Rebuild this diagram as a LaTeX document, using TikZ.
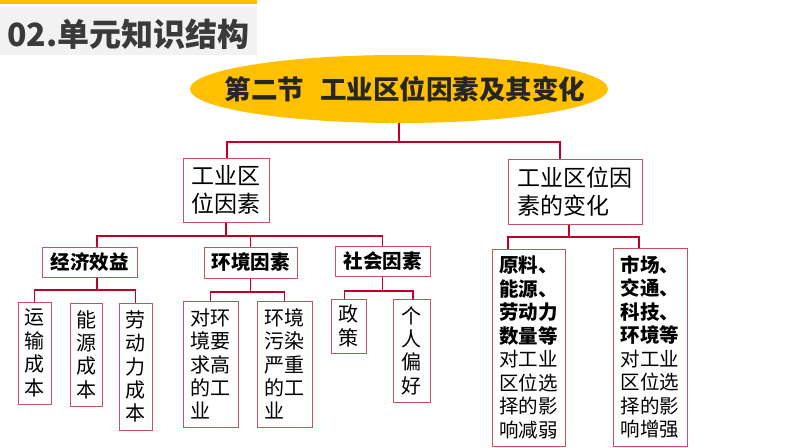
\documentclass[tikz,border=0pt]{standalone}
\usepackage{fontspec}
\setmainfont{Noto Sans CJK SC}
\usetikzlibrary{shapes.geometric}
\definecolor{gold}{RGB}{255,192,0}
\definecolor{hdrgray}{RGB}{242,242,242}
\definecolor{hdrtext}{RGB}{58,58,58}
\definecolor{connred}{RGB}{192,0,40}
\definecolor{boxred}{RGB}{200,80,95}
\tikzset{
  conn/.style={draw=connred, line width=1.3pt},
  box/.style={draw=boxred, line width=1pt, inner sep=0pt, text=black},
  midbox/.style={box, font={\fontsize{23}{28}\selectfont}, align=left},
  catbox/.style={box, font={\bfseries\fontsize{19.5}{23}\selectfont}, align=center},
  leafbox/.style={box, font={\fontsize{20}{23.4}\selectfont}, align=left},
  sidebox/.style={box, font={\fontsize{19.5}{23.5}\selectfont}, align=left},
}
\begin{document}
\begin{tikzpicture}[x=1pt,y=-1pt]
\useasboundingbox (0,0) rectangle (794,447);
\fill[white] (0,0) rectangle (794,447);
% header
\fill[gold] (0,0) rectangle (257,3.5);
\fill[hdrgray] (0,6) rectangle (257,55);
\node[anchor=west, text=hdrtext, font={\bfseries\fontsize{32}{32}\selectfont}, inner sep=0pt] (hdr) at (7,34) {02.单元知识结构};
% title
\node[ellipse, fill=gold, minimum width=418pt, minimum height=68pt, inner sep=0pt,
      font={\bfseries\fontsize{26.5}{26.5}\selectfont}, text={rgb,255:red,38;green,38;blue,38}] (title) at (399,89) {\makebox[0pt]{\hspace{12pt}第二节\hspace{0.6em}工业区位因素及其变化}};
% level 1
\node[midbox, minimum width=86pt, minimum height=64pt] (b1) at (226,190) {工业区\\位因素};
\node[midbox, minimum width=134pt, minimum height=65pt] (b2) at (575,191.5) {工业区位因\\素的变化};
% level 2
\node[catbox, minimum width=95pt, minimum height=30pt] (e1) at (89.5,262) {经济效益};
\node[catbox, minimum width=93pt, minimum height=31pt] (e2) at (250.5,262.5) {环境因素};
\node[catbox, minimum width=95pt, minimum height=30pt] (e3) at (382.5,261) {社会因素};
% leaves
\node[leafbox, minimum width=33pt, minimum height=102pt] (l1) at (34.5,353) {运\\输\\成\\本};
\node[leafbox, minimum width=32pt, minimum height=103pt] (l2) at (86,354.5) {能\\源\\成\\本};
\node[leafbox, minimum width=33pt, minimum height=127pt] (l3) at (135.5,366.5) {劳\\动\\力\\成\\本};
\node[leafbox, minimum width=55pt, minimum height=126pt] (l4) at (210.5,364) {对环\\境要\\求高\\的工\\业};
\node[leafbox, minimum width=55pt, minimum height=126pt] (l5) at (284.5,364) {环境\\污染\\严重\\的工\\业};
\node[leafbox, minimum width=35pt, minimum height=54pt] (l6) at (348.5,326) {政\\策};
\node[leafbox, minimum width=37pt, minimum height=103pt] (l7) at (411.5,350.5) {个\\人\\偏\\好};
% right side
\node[sidebox, minimum width=73pt, minimum height=197pt] (r1) at (528.5,347.5)
  {\textbf{原料、}\\\textbf{能源、}\\\textbf{劳动力}\\\textbf{数量等}\\对工业\\区位选\\择的影\\响减弱};
\node[sidebox, minimum width=74pt, minimum height=198pt] (r2) at (650,347)
  {\textbf{市场、}\\\textbf{交通、}\\\textbf{科技、}\\\textbf{环境等}\\对工业\\区位选\\择的影\\响增强};
% junctions
\coordinate (j0) at (399,142);
\coordinate (j1) at (226,236);
\coordinate (j2) at (97,290);
\coordinate (j3) at (250.5,292);
\coordinate (j4) at (382.5,291);
\coordinate (j5) at (569,237);
% connectors
\draw[conn] (title.south -| j0) -- (j0);
\draw[conn] ([xshift=1pt]b1.north) |- (j0) -| ([xshift=-15pt]b2.north);
\draw[conn] (b1.south) -- (j1);
\draw[conn] ([xshift=7.5pt]e1.north) |- (j1) -| (e3.north);
\draw[conn] (e2.north) -- (e2.north |- j1);
\draw[conn] ([xshift=7.5pt]e1.south) -- (j2);
\draw[conn] (l1.north) |- (j2) -| (l3.north);
\draw[conn] (e2.south) -- (j3);
\draw[conn] (l4.north) |- (j3) -| (l5.north);
\draw[conn] (e3.south) -- (j4);
\draw[conn] ([xshift=-4pt]l6.north) |- (j4) -| ([xshift=1.5pt]l7.north);
\draw[conn] ([xshift=-6pt]b2.south) -- (j5);
\draw[conn] ([xshift=-20.5pt]r1.north) |- (j5) -| ([xshift=-11pt]r2.north);
\end{tikzpicture}
\end{document}
